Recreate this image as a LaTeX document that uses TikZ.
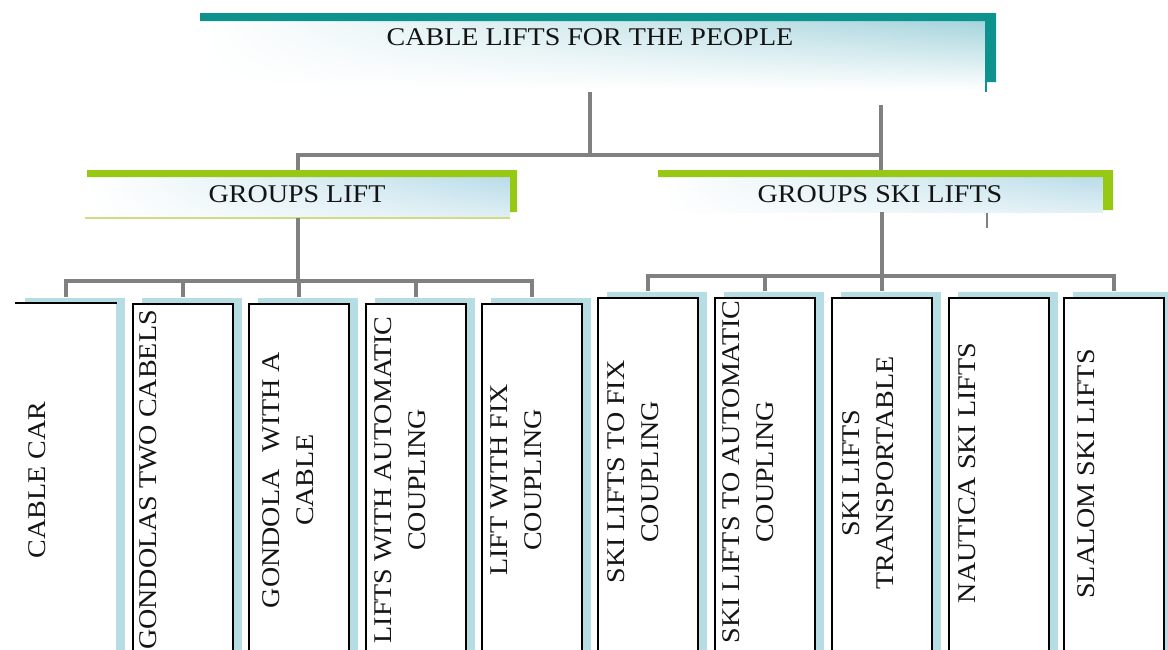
\documentclass[tikz,border=0pt]{standalone}
\usepackage{fontspec}
\setmainfont{Liberation Serif}[FakeStretch=1.1]
\usetikzlibrary{calc,shadows,shadings}
\definecolor{tealbar}{RGB}{14,146,142}
\definecolor{greenbar}{RGB}{150,200,20}
\definecolor{connc}{RGB}{128,128,128}
\definecolor{shadowblue}{RGB}{183,221,228}
\definecolor{tintblue}{RGB}{165,212,220}
\definecolor{gtint}{RGB}{185,220,232}
\definecolor{gline}{RGB}{205,222,130}
\begin{document}
\begin{tikzpicture}[x=1pt,y=-1pt,
  conn/.style={draw=connc, line width=3.5pt, line join=miter},
  leafbox/.style={draw=black, line width=1.9pt, fill=white, minimum width=100pt,
    minimum height=360pt, inner sep=0pt, anchor=north west,
    general shadow={fill=shadowblue, shadow xshift=9pt, shadow yshift=6pt}},
  leafnoframe/.style={leafbox, draw=none},
  lbl/.style={rotate=90, anchor=north, align=center, inner sep=0pt,
    text=black!92, font=\fontsize{25.5}{34}\selectfont},
  head/.style={anchor=base, inner sep=0pt, text=black!92,
    font=\fontsize{25.5}{30}\selectfont}]
\useasboundingbox (0,0) rectangle (1168,649);
\clip (0,0) rectangle (1168,649);
\fill[white] (0,0) rectangle (1168,649);

% ---- title block
\shade[upper left=white, upper right=tintblue, lower left=white, lower right=white]
  (200,21) rectangle (985,90);
\fill[tealbar] (200,13) -- (996,13) -- (996,82) -- (985,82) -- (985,21) -- (200,21) -- cycle;
\draw[tealbar, line width=1.5pt] (986,82) -- (986,92);
\node[head] (title) at (590,45) {CABLE LIFTS FOR THE PEOPLE};

% ---- group blocks
\shade[upper left=white, upper right=gtint, lower left=white, lower right=white!55!gtint]
  (87,177) rectangle (510,218);
\fill[greenbar] (87,170) -- (517,170) -- (517,212) -- (510,212) -- (510,177) -- (87,177) -- cycle;
\draw[gline, line width=1.5pt] (85,218) -- (510,218);
\node[head] (gl) at (297,202) {GROUPS LIFT};

\shade[upper left=white, upper right=gtint, lower left=white, lower right=white!55!gtint]
  (658,177) rectangle (1103,212);
\fill[greenbar] (658,170) -- (1113,170) -- (1113,210) -- (1103,210) -- (1103,177) -- (658,177) -- cycle;
\node[head] (gs) at (880,202) {GROUPS SKI LIFTS};

% ---- leaf boxes
\node[leafnoframe] (b1) at (15,303) {};
\draw[black, line width=1.9pt] (b1.north west) -- (b1.north east);
\node[leafbox] (b2) at (132,303) {};
\node[leafbox] (b3) at (248,303) {};
\node[leafbox] (b4) at (365,303) {};
\node[leafbox] (b5) at (481,303) {};
\node[leafbox] (b6) at (597,297) {};
\node[leafbox] (b7) at (714,297) {};
\node[leafbox] (b8) at (831,297) {};
\node[leafbox] (b9) at (948,297) {};
\node[leafbox] (b10) at (1063,297) {};

% ---- leaf labels
\node[lbl] (l1) at (28,480) {CABLE CAR};
\node[lbl] (l2) at (139,480) {GONDOLAS TWO CABELS};
\node[lbl] (l3) at (262,480) {GONDOLA\hspace{0.4em} WITH A\\CABLE};
\node[lbl] (l4) at (374,480) {LIFTS WITH AUTOMATIC\\COUPLING};
\node[lbl] (l5) at (491,480) {LIFT WITH FIX\\COUPLING};
\node[lbl] (l6) at (607,472) {SKI LIFTS TO FIX\\COUPLING};
\node[lbl] (l7) at (722,472) {SKI LIFTS TO AUTOMATIC\\COUPLING};
\node[lbl] (l8) at (842,473) {SKI LIFTS\\TRANSPORTABLE};
\node[lbl] (l9) at (958,473) {NAUTICA SKI LIFTS};
\node[lbl] (l10) at (1077,474) {SLALOM SKI LIFTS};

% ---- connector points
\coordinate (tdown) at (590,92);
\coordinate (hub1) at (590,155);
\coordinate (gltop) at (298,170);
\coordinate (gstop) at (881,170);
\coordinate (gsstub) at (881,105);
\coordinate (glbot) at (298,218);
\coordinate (hub2) at (298,281);
\coordinate (gsbot) at (882,212);
\coordinate (hub3) at (882,276);
\coordinate (ticka) at (987,213);
\coordinate (tickb) at (987,228);

% ---- connectors
\draw[conn] (tdown) -- (hub1);
\draw[conn] (gltop) -- (gltop |- hub1) -- (gstop |- hub1);
\draw[conn] (gsstub) -- (gstop);

\draw[conn] (glbot) -- (hub2);
\draw[conn] ($(b1.north)+(0,-6)$) -- (b1.north |- hub2) -- (b5.north |- hub2) -- ($(b5.north)+(0,-6)$);
\foreach \b in {b2,b3,b4}{
  \draw[conn] (\b.north |- hub2) -- ($(\b.north)+(0,-6)$);
}

\draw[conn] (gsbot) -- (hub3);
\draw[conn] ($(b6.north)+(0,-6)$) -- (b6.north |- hub3) -- (b10.north |- hub3) -- ($(b10.north)+(0,-6)$);
\foreach \b in {b7,b8}{
  \draw[conn] (\b.north |- hub3) -- ($(\b.north)+(0,-6)$);
}
\draw[conn, line width=2.5pt] (ticka) -- (tickb);
\end{tikzpicture}
\end{document}
